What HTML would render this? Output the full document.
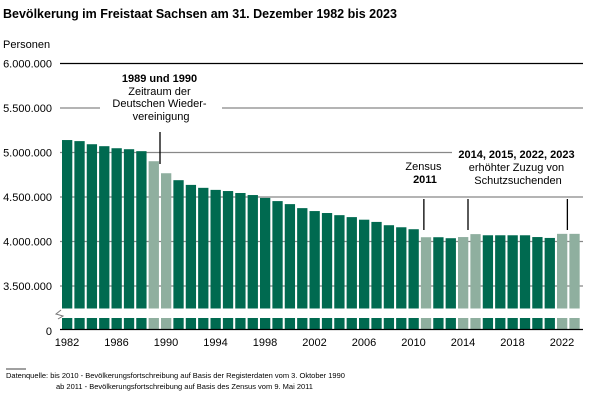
<!DOCTYPE html>
<html><head><meta charset="utf-8">
<style>
body{margin:0;background:#fff;}
svg{display:block;font-family:"Liberation Sans",Arial,sans-serif;}
</style></head>
<body>
<svg id="chart" width="603" height="401" viewBox="0 0 603 401">
<text x="3" y="18" font-size="12.5" font-weight="bold" fill="#000">Bevölkerung im Freistaat Sachsen am 31. Dezember 1982 bis 2023</text>
<text x="3" y="48" font-size="11" fill="#000">Personen</text>
<g id="grid"></g>
<g id="bars"></g>
<g id="annot">
<text font-size="11" text-anchor="middle" fill="#000">
<tspan x="161" y="82" font-weight="bold">1989 und 1990</tspan>
<tspan x="161" y="95">Zeitraum der</tspan>
<tspan x="161" y="107">Deutschen Wieder-</tspan>
<tspan x="161" y="120">vereinigung</tspan>
</text>
<text font-size="11" text-anchor="middle" fill="#000">
<tspan x="425" y="170">Zensus</tspan>
<tspan x="425" y="183" font-weight="bold">2011</tspan>
</text>
<text font-size="11" text-anchor="middle" fill="#000">
<tspan x="518" y="158" font-weight="bold">2014, 2015, 2022, 2023</tspan>
<tspan x="518" y="171">erhöhter Zuzug von</tspan>
<tspan x="518" y="184">Schutzsuchenden</tspan>
</text>
</g>
<text x="6" y="378" font-size="7.5" fill="#000">Datenquelle:  bis 2010  - Bevölkerungsfortschreibung   auf Basis der  Registerdaten  vom 3. Oktober  1990</text>
<text x="56" y="389" font-size="7.5" fill="#000">ab 2011  - Bevölkerungsfortschreibung   auf Basis des Zensus  vom 9. Mai 2011</text>
<line x1="6" y1="369" x2="26" y2="369" stroke="#000" stroke-width="0.8"/>
</svg>
<script>
const years = [1982,1983,1984,1985,1986,1987,1988,1989,1990,1991,1992,1993,1994,1995,1996,1997,1998,1999,2000,2001,2002,2003,2004,2005,2006,2007,2008,2009,2010,2011,2012,2013,2014,2015,2016,2017,2018,2019,2020,2021,2022,2023];
const population = [5140000,5128000,5093000,5071000,5048000,5037000,5015000,4902000,4767000,4689000,4636000,4603000,4580000,4567000,4545000,4522000,4490000,4454000,4420000,4375000,4342000,4320000,4296000,4274000,4245000,4220000,4183000,4160000,4138000,4048000,4048000,4037000,4050000,4083000,4070000,4070000,4070000,4070000,4050000,4040000,4086000,4086000];
const highlightYears = [1989,1990,2011,2014,2015,2022,2023];
const yTicks = [3500000,4000000,4500000,5000000,5500000,6000000];
const yTickLabels = ["3.500.000","4.000.000","4.500.000","5.000.000","5.500.000","6.000.000"];
const xLabelYears = [1982,1986,1990,1994,1998,2002,2006,2010,2014,2018,2022];

const NS="http://www.w3.org/2000/svg";
const svg=document.getElementById('chart');
const gGrid=document.getElementById('grid');
const gBars=document.getElementById('bars');
function y(v){return 241.5-(v-4000000)/500000*44.5;}
function x(yr){return 67+(yr-1982)*12.375;}
function mk(tag,attrs,parent){const e=document.createElementNS(NS,tag);for(const k in attrs)e.setAttribute(k,attrs[k]);parent.appendChild(e);return e;}

yTicks.forEach((v,i)=>{
  const yy=y(v);
  const top=(v===6000000);
  if(v===5500000){
    const l1=mk('line',{x1:60,x2:100,y1:yy,y2:yy,stroke:'#888','stroke-width':1.2},gGrid);
    
    
    const l2=mk('line',{x1:222,x2:583,y1:yy,y2:yy,stroke:'#888','stroke-width':1.2},gGrid);
    
    
  } else if(v===5000000){
    const l1=mk('line',{x1:60,x2:452,y1:yy,y2:yy,stroke:'#888','stroke-width':1.2},gGrid);
    
    
  } else {
    const l=mk('line',{x1:60,x2:583,y1:yy,y2:yy,stroke:top?'#000':'#888','stroke-width':top?1.3:1.2},gGrid);
    
    
  }
  const t=mk('text',{x:52,y:yy+4,'font-size':11,'text-anchor':'end',fill:'#000'},gGrid);
  t.textContent=yTickLabels[i];
  
  
});
const z=mk('text',{x:52,y:335,'font-size':11,'text-anchor':'end',fill:'#000'},gGrid);
z.textContent='0';



const barBottom=308.5;
years.forEach((yr,i)=>{
  const cx=x(yr);
  const col=highlightYears.includes(yr)?'#8FAF9F':'#006A50';
  const top=y(population[i]);
  const r=mk('rect',{x:cx-5,y:top,width:10.3,height:barBottom-top,fill:col},gBars);
  
  
  const r2=mk('rect',{x:cx-5,y:318,width:10.3,height:11,fill:col},gBars);
  
  
});
const ax=mk('line',{x1:60,x2:583,y1:329.5,y2:329.5,stroke:'#000','stroke-width':1.3},gBars);


const br=mk('polyline',{points:'61,310 56,314 63,316 58,319',fill:'none',stroke:'#777','stroke-width':1},gBars);


xLabelYears.forEach(yr=>{
  const t=mk('text',{x:x(yr),y:346,'font-size':11,'text-anchor':'middle',fill:'#000'},gBars);
  t.textContent=yr;
  
  
});
// annotation pointer lines
const ptrs=[[x(1990)-6,132,164],[x(2011)-2,199,230],[x(2014)+5,199,230],[x(2023)-7,199,230]];
ptrs.forEach(p=>{
  const l=mk('line',{x1:p[0],x2:p[0],y1:p[1],y2:p[2],stroke:'#000','stroke-width':1.3},gBars);
  
  
});
</script>
</body></html>
